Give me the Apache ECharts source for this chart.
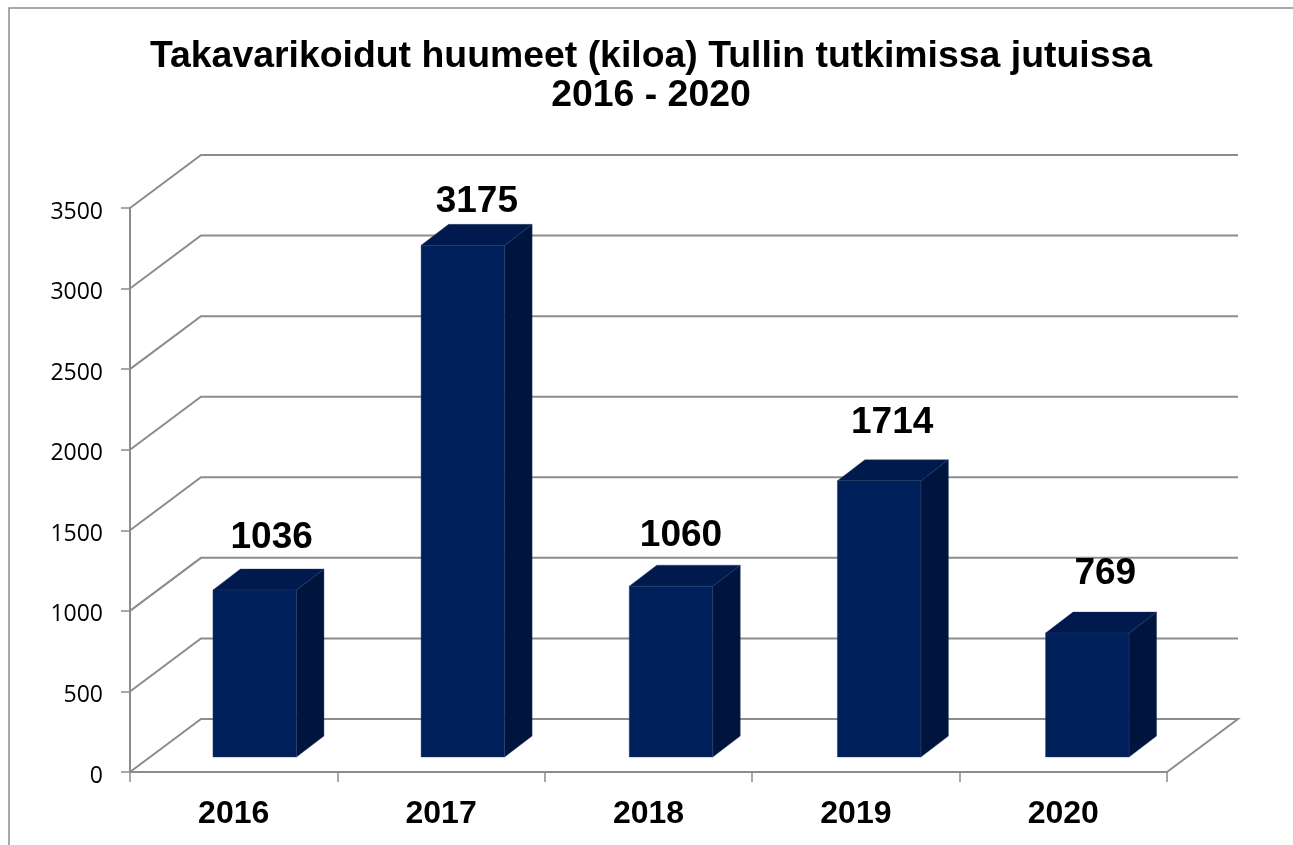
<!DOCTYPE html>
<html><head><meta charset="utf-8">
<style>html,body{margin:0;padding:0;background:#fff}#c{width:1293px;height:845px}</style>
<script src="https://cdn.jsdelivr.net/npm/echarts@6/dist/echarts.min.js"></script>
</head><body><div id="c"></div>
<script>
const categories = ['2016','2017','2018','2019','2020'];
const values = [1036,3175,1060,1714,769];
const yTicks = [0,500,1000,1500,2000,2500,3000,3500];

const GRAY='#8c8c8c', DEPTH_X=71, DEPTH_Y=-53;
const BAR_W=83.5, BAR_SHIFT_X=21, BAR_STEP_EXTRA=0.75, BAR_SHIFT_Y=-15, SIDE_X=27.5, SIDE_Y=-21;
const labelNudge=[[17,-52],[14,-44],[10,-50],[13,-58],[18,-59]];

const chart=echarts.init(document.getElementById('c'),null,{renderer:'canvas'});
function poly(points,fill){
  return {type:'polygon',shape:{points},style:{fill,stroke:'#24345f',lineWidth:0.4}};
}
chart.setOption({
  animation:false,
  backgroundColor:'#fff',
  title:{text:'Takavarikoidut huumeet (kiloa) Tullin tutkimissa jutuissa\n2016 - 2020',
    left:646,top:32,textAlign:'center',
    textStyle:{fontFamily:'Liberation Sans',fontWeight:'bold',fontSize:37.4,lineHeight:39,color:'#000'}},
  graphic:[{type:'polyline',silent:true,shape:{points:[[9,845],[9,8],[1293,8]]},
    style:{stroke:GRAY,lineWidth:1.5,fill:'none'}}],
  grid:{left:130,right:126,top:208,bottom:73},
  xAxis:{type:'category',data:categories,
    axisLine:{lineStyle:{color:GRAY,width:2}},
    axisTick:{show:true,length:10,alignWithLabel:false,lineStyle:{color:GRAY,width:1.5}},
    axisLabel:{margin:26,fontFamily:'Liberation Sans',fontWeight:'bold',fontSize:32,color:'#000'}},
  yAxis:{type:'value',min:0,max:3500,interval:500,
    axisLine:{show:true,lineStyle:{color:GRAY,width:2}},
    axisTick:{show:true,length:9,lineStyle:{color:GRAY,width:1.5}},
    splitLine:{show:false},
    axisLabel:{margin:27,fontFamily:'Open Sans',fontSize:23,color:'#000',verticalAlign:'top',lineHeight:8,
      formatter:v=>String(v)}},
  series:[
    {type:'custom',clip:false,silent:true,z:1,
     data:yTicks.map(v=>[0,v]),
     encode:{x:0,y:1},
     renderItem(params,api){
       const cs=params.coordSys, y=api.coord([0,api.value(1)])[1];
       const x0=cs.x, x1=cs.x+cs.width;
       const ls={stroke:GRAY,lineWidth:2,fill:'none'};
       const pts=[[x0,y],[x0+DEPTH_X,y+DEPTH_Y],[x1+DEPTH_X,y+DEPTH_Y]];
       if(api.value(1)===0) pts.push([x1,y]);
       return {type:'polyline',shape:{points:pts},style:ls};
     }},
    {type:'custom',clip:false,silent:true,z:3,
     data:values.map((v,i)=>[i,v]),
     encode:{x:0,y:1},
     renderItem(params,api){
       const i=api.value(0), v=api.value(1);
       const top=api.coord([i,v]), base=api.coord([i,0]);
       const cx=top[0]+BAR_SHIFT_X+i*BAR_STEP_EXTRA, l=cx-BAR_W/2, r=cx+BAR_W/2;
       const t=top[1]+BAR_SHIFT_Y, b=base[1]+BAR_SHIFT_Y;
       const n=labelNudge[i];
       return {type:'group',children:[
         poly([[r,t],[r+SIDE_X,t+SIDE_Y],[r+SIDE_X,b+SIDE_Y],[r,b]],'#00153e'),
         poly([[l,t],[l+SIDE_X,t+SIDE_Y],[r+SIDE_X,t+SIDE_Y],[r,t]],'#001a4e'),
         poly([[l,t],[r,t],[r,b],[l,b]],'#00205b'),
         {type:'text',style:{text:String(v),x:cx+n[0],y:t+n[1],align:'center',verticalAlign:'middle',
           fontFamily:'Liberation Sans',fontWeight:'bold',fontSize:37,fill:'#000'}}
       ]};
     }}
  ]
});
</script></body></html>
